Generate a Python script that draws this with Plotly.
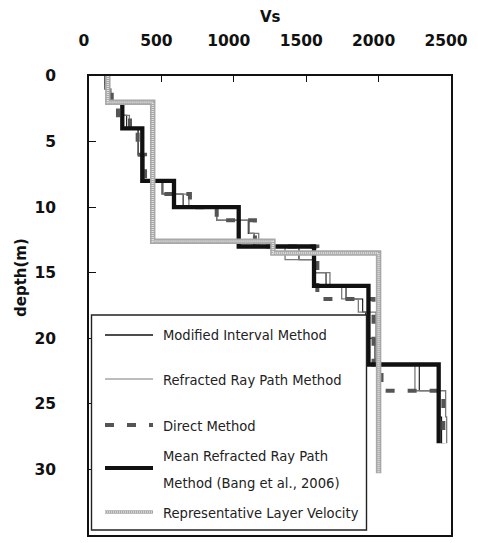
import plotly.graph_objects as go

# ---- layer profiles: depth boundaries (m) and shear-wave velocity per layer (m/s) ----
mod_depth = [0, 1, 2, 3, 4, 6, 8, 9, 10, 11, 12, 13, 14, 15, 16, 17, 18, 20, 22, 24, 26, 28]
mod_vs = [110, 150, 230, 260, 340, 370, 510, 650, 882, 1100, 1140, 1450, 1560, 1637,
          1775, 1890, 1911, 1975, 2281, 2420, 2435]

ref_depth = [0, 1, 2, 3, 4, 6, 8, 9, 10, 11, 12, 13, 14, 15, 16, 17, 18, 22, 24, 26, 28]
ref_vs = [120, 150, 230, 279, 336, 380, 502, 690, 882, 1107, 1172, 1354, 1560, 1664,
          1745, 1860, 1982, 2251, 2463, 2470]

dir_depth = [0, 1, 2, 3, 4, 6, 8, 9, 10, 11, 13, 17, 22, 24, 28]
dir_vs = [120, 157, 200, 283, 336, 387, 509, 697, 882, 1146, 1577, 1965, 2020, 2447]

mean_depth = [2, 4, 8, 10, 13, 16, 22, 28]
mean_vs = [230, 368, 587, 1034, 1554, 1930, 2415]

rep_depth = [0, 2, 12.6, 13.5, 30.3]
rep_vs = [130, 440, 1270, 2000]

x_ticks = [0, 500, 1000, 1500, 2000, 2500]
y_ticks = [0, 5, 10, 15, 20, 25, 30, 35]

legend_names = [
    "Modified Interval Method",
    "Refracted Ray Path Method",
    "Direct Method",
    "Mean Refracted Ray Path",
    "Method (Bang et al., 2006)",
    "Representative Layer Velocity",
]

W, H = 478, 543
L, R, T, B = 89, 27, 76, 8
PW, PH = W - L - R, H - T - B


def px(x):
    return (x - L) / PW


def py(y):
    return (H - B - y) / PH


def step(vs, depth):
    # vertical run over each layer, horizontal jump at each boundary
    return list(vs) + [vs[-1]], list(depth)


fig = go.Figure()

x, y = step(mod_vs, mod_depth)
fig.add_trace(go.Scatter(x=x, y=y, mode="lines", line_shape="vh",
                         line=dict(color="#111111", width=1.1), name=legend_names[0]))
x, y = step(ref_vs, ref_depth)
fig.add_trace(go.Scatter(x=x, y=y, mode="lines", line_shape="vh",
                         line=dict(color="#7a7a7a", width=1.3), name=legend_names[1]))
x, y = step(dir_vs, dir_depth)
fig.add_trace(go.Scatter(x=x, y=y, mode="lines", line_shape="vh",
                         line=dict(color="#555555", width=4, dash="9px,13px"),
                         name=legend_names[2]))
x, y = step(mean_vs, mean_depth)
fig.add_trace(go.Scatter(x=x, y=y, mode="lines", line_shape="vh",
                         line=dict(color="#111111", width=4.3), name=legend_names[3]))
x, y = step(rep_vs, rep_depth)
fig.add_trace(go.Scatter(x=x, y=y, mode="lines", line_shape="vh",
                         line=dict(color="#a8a8a8", width=5.5), name=legend_names[5]))
fig.add_trace(go.Scatter(x=x, y=y, mode="lines", line_shape="vh",
                         line=dict(color="#e2e2e2", width=2.2, dash="1px,1px"),
                         showlegend=False, hoverinfo="skip"))

tick_font = dict(family="DejaVu Sans", size=15.5, color="#111111", weight="bold")

fig.update_xaxes(side="top", range=[0, 2500], tickvals=x_ticks, ticks="inside", ticklen=6,
                 tickwidth=1.2, tickcolor="#111111", showline=True, mirror=True,
                 linewidth=1.6, linecolor="#111111", showgrid=False, zeroline=False,
                 tickfont=tick_font, ticklabelstandoff=22, ticklabelshift=-5)
fig.update_yaxes(range=[35, 0], tickvals=y_ticks, ticks="inside", ticklen=7,
                 tickwidth=1.2, tickcolor="#111111", showline=True, mirror=True,
                 linewidth=1.6, linecolor="#111111", showgrid=False, zeroline=False,
                 tickfont=tick_font, ticklabelstandoff=28)

# axis titles
annotations = [
    dict(text="Vs", x=0.5, y=py(17), xref="paper", yref="paper", showarrow=False,
         font=dict(family="DejaVu Sans", size=15, color="#111111", weight="bold"),
         xanchor="center", yanchor="middle"),
    dict(text="depth(m)", x=px(21), y=py(278), xref="paper", yref="paper", showarrow=False,
         textangle=-90,
         font=dict(family="DejaVu Sans", size=15, color="#111111", weight="bold"),
         xanchor="center", yanchor="middle"),
]

# boxed key drawn inside the plot area
shapes = [dict(type="rect", xref="paper", yref="paper", x0=px(91.5), x1=px(366.5),
               y0=py(530), y1=py(315), line=dict(color="#222222", width=1.4),
               fillcolor="white", layer="above")]

key_rows = [335, 379, 425, 468, 512]
key_styles = [
    [dict(color="#111111", width=1.3)],
    [dict(color="#7a7a7a", width=1.1)],
    [dict(color="#555555", width=4, dash="9px,13px")],
    [dict(color="#111111", width=4)],
    [dict(color="#a8a8a8", width=3.5), dict(color="#e2e2e2", width=1.3, dash="1px,1px")],
]
for yy, styles in zip(key_rows, key_styles):
    for st in styles:
        shapes.append(dict(type="line", xref="paper", yref="paper", x0=px(105), x1=px(153),
                           y0=py(yy), y1=py(yy), line=st, layer="above"))

key_font = dict(family="DejaVu Sans Condensed, sans-serif", size=14.6, color="#222222")
text_rows = [335, 379, 425, 455, 482, 512]
for name, yy in zip(legend_names, text_rows):
    annotations.append(dict(text=name, x=px(161), y=py(yy), xref="paper", yref="paper",
                            showarrow=False, xanchor="left", yanchor="middle",
                            font=key_font))

fig.update_layout(width=W, height=H, margin=dict(l=L, r=R, t=T, b=B, autoexpand=False),
                  plot_bgcolor="white", paper_bgcolor="white", showlegend=False,
                  shapes=shapes, annotations=annotations)

fig.write_html("out.html")
